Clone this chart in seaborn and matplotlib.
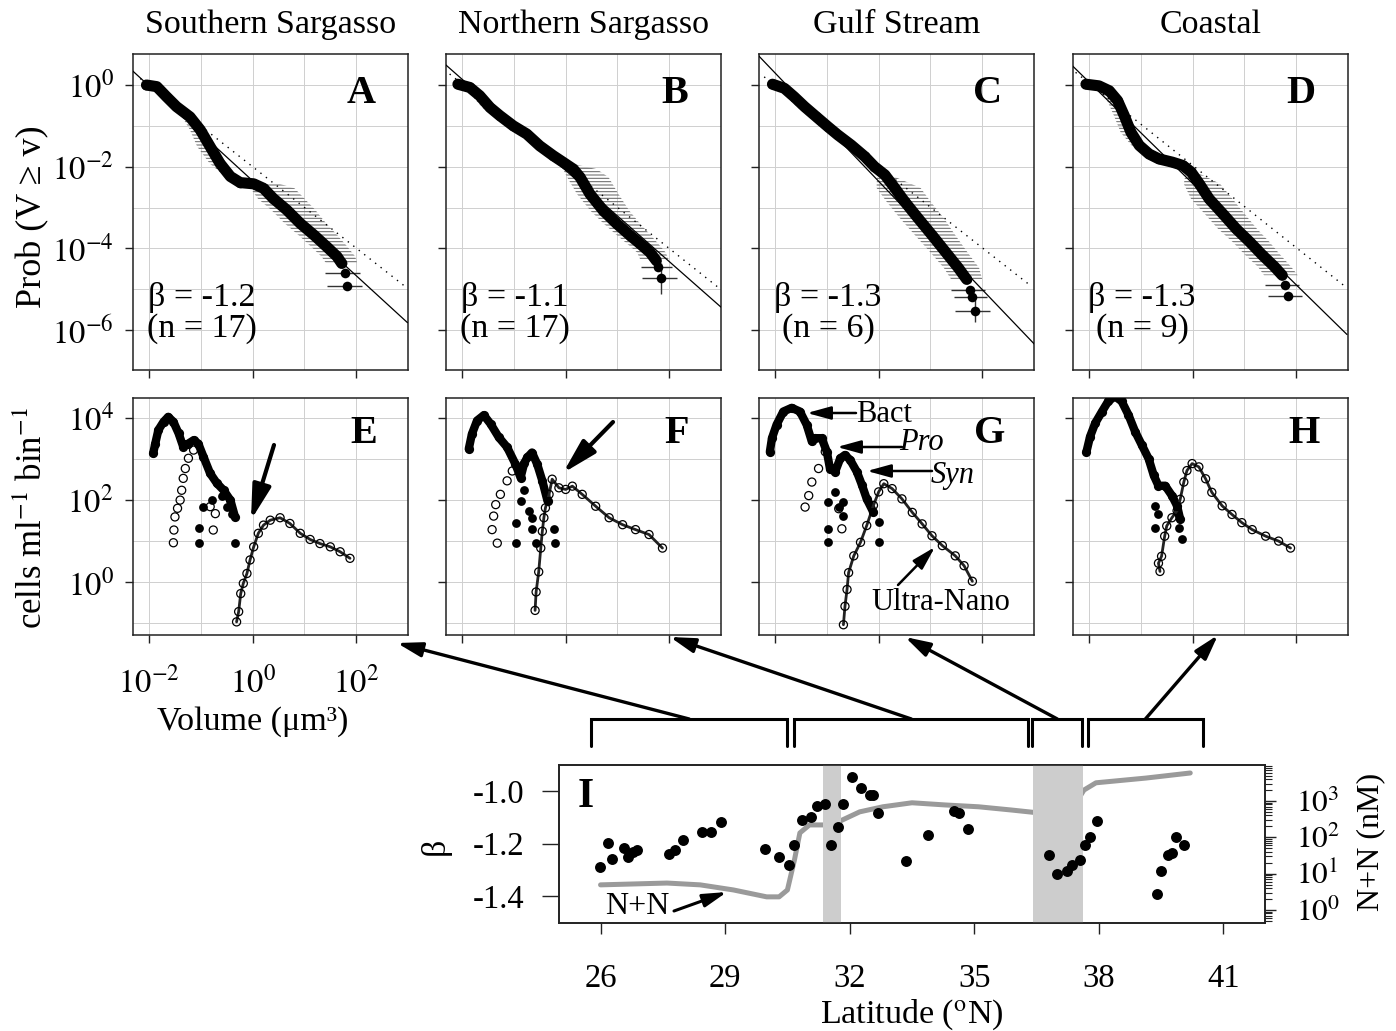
import numpy as np
import matplotlib
matplotlib.use("Agg")
import matplotlib.pyplot as plt
import matplotlib.transforms as mtransforms
from matplotlib.ticker import FixedLocator, NullFormatter
import seaborn as sns

sns.set_theme(style="white")
plt.rcParams["font.family"] = ["Liberation Serif", "DejaVu Serif"]
plt.rcParams["mathtext.fontset"] = "stix"
plt.rcParams["hatch.linewidth"] = 0.75
plt.rcParams["hatch.color"] = "#6a6a6a"
for k in ["text.color", "axes.labelcolor", "xtick.color", "ytick.color"]:
    plt.rcParams[k] = "black"

# ---------------- data: cumulative size distributions (log10 volume, log10 prob) ----------------
titles = ["Southern Sargasso", "Northern Sargasso", "Gulf Stream", "Coastal"]
letters_top = ["A", "B", "C", "D"]
betas_txt = ["\u03b2 = -1.2", "\u03b2 = -1.1", "\u03b2 = -1.3", "\u03b2 = -1.3"]
n_txt = ["(n = 17)", "(n = 17)", "(n = 6)", "(n = 9)"]

a_logv = [-2.05, -1.85, -1.66, -1.47, -1.21, -1.01, -0.82, -0.63, -0.43, -0.24, 0.02, 0.21, 0.40, 0.66, 0.92, 1.18, 1.43, 1.63, 1.72, 1.79, 1.83]
a_logp = [0.00, -0.04, -0.29, -0.53, -0.78, -1.10, -1.51, -1.92, -2.24, -2.39, -2.42, -2.53, -2.78, -3.06, -3.39, -3.67, -3.96, -4.20, -4.37, -4.60, -4.92]
a_err_lo = [0.03, 0.05, 0.10, 0.12, 0.15, 0.20, 0.25, 0.20, 0.10, 0.08, 0.20, 0.25, 0.30, 0.30, 0.30, 0.30, 0.30, 0.30, 0.30, 0.39, 0.40]
a_err_hi = [0.03, 0.05, 0.05, 0.05, 0.05, 0.05, 0.05, 0.05, 0.05, 0.05, 0.50, 0.60, 0.60, 0.55, 0.50, 0.45, 0.40, 0.35, 0.30, 0.29, 0.28]
a_tail_yerr = [0.0, 0.0]
a_fit_logv = [-2.335, 2.99]
a_fit_logp = [0.367, -5.82]
a_dot_logv = [-2.17, 2.95]
a_dot_logp = [0.16, -4.94]

b_logv = [-2.08, -1.85, -1.66, -1.46, -1.27, -1.01, -0.75, -0.50, -0.24, -0.05, 0.15, 0.28, 0.47, 0.73, 0.99, 1.25, 1.44, 1.63, 1.75, 1.79, 1.85]
b_logp = [0.02, -0.06, -0.26, -0.55, -0.75, -1.00, -1.20, -1.49, -1.73, -1.89, -2.06, -2.26, -2.67, -3.08, -3.40, -3.69, -3.89, -4.10, -4.30, -4.45, -4.73]
b_err_lo = [0.03, 0.10, 0.15, 0.15, 0.15, 0.10, 0.08, 0.05, 0.05, 0.05, 0.20, 0.25, 0.25, 0.25, 0.25, 0.25, 0.25, 0.25, 0.30, 0.33, 0.37]
b_err_hi = [0.03, 0.10, 0.10, 0.10, 0.08, 0.05, 0.05, 0.05, 0.05, 0.05, 0.45, 0.55, 0.55, 0.50, 0.45, 0.40, 0.35, 0.30, 0.25, 0.27, 0.30]
b_tail_yerr = [0.0, 0.38]
b_fit_logv = [-2.32, 3.0]
b_fit_logp = [0.50, -5.44]
b_dot_logv = [-2.24, 2.95]
b_dot_logp = [0.27, -4.96]

c_logv = [-2.05, -1.82, -1.63, -1.43, -1.21, -0.98, -0.79, -0.53, -0.27, -0.08, 0.12, 0.31, 0.50, 0.76, 1.02, 1.28, 1.54, 1.70, 1.76, 1.81, 1.86]
c_logp = [0.02, -0.08, -0.29, -0.53, -0.77, -1.02, -1.22, -1.47, -1.75, -2.00, -2.20, -2.52, -2.85, -3.26, -3.66, -4.07, -4.48, -4.76, -5.01, -5.20, -5.54]
c_err_lo = [0.03, 0.10, 0.15, 0.15, 0.15, 0.15, 0.15, 0.12, 0.10, 0.10, 0.15, 0.35, 0.35, 0.35, 0.33, 0.30, 0.28, 0.30, 0.36, 0.36, 0.38]
c_err_hi = [0.03, 0.05, 0.05, 0.05, 0.05, 0.05, 0.05, 0.05, 0.05, 0.05, 0.10, 0.50, 0.50, 0.50, 0.45, 0.42, 0.40, 0.30, 0.29, 0.29, 0.29]
c_tail_yerr = [0.0, 0.0, 0.27]
c_fit_logv = [-2.32, 3.01]
c_fit_logp = [0.72, -6.35]
c_dot_logv = [-2.21, 2.95]
c_dot_logp = [0.20, -4.93]

d_logv = [-2.06, -1.81, -1.61, -1.45, -1.32, -1.19, -1.03, -0.84, -0.65, -0.39, -0.19, -0.03, 0.13, 0.32, 0.58, 0.84, 1.10, 1.35, 1.58, 1.73, 1.79, 1.84]
d_logp = [0.02, -0.02, -0.14, -0.38, -0.75, -1.16, -1.48, -1.69, -1.81, -1.89, -1.97, -2.13, -2.42, -2.79, -3.15, -3.52, -3.84, -4.17, -4.45, -4.66, -4.89, -5.16]
d_err_lo = [0.03, 0.10, 0.15, 0.20, 0.20, 0.20, 0.15, 0.08, 0.05, 0.05, 0.05, 0.10, 0.30, 0.35, 0.35, 0.35, 0.33, 0.33, 0.32, 0.35, 0.40, 0.38]
d_err_hi = [0.03, 0.05, 0.05, 0.05, 0.05, 0.05, 0.05, 0.05, 0.05, 0.05, 0.05, 0.10, 0.40, 0.45, 0.42, 0.40, 0.38, 0.35, 0.32, 0.30, 0.27, 0.27]
d_tail_yerr = [0.0, 0.10]
d_fit_logv = [-2.32, 2.98]
d_fit_logp = [0.47, -6.11]
d_dot_logv = [-2.26, 2.95]
d_dot_logp = [0.31, -4.94]

# ---------------- data: size spectra (log10 volume, log10 cells ml-1 bin-1) ----------------
letters_mid = ["E", "F", "G", "H"]

e_fill_logv = [-1.92, -1.88, -1.82, -1.72, -1.63, -1.53, -1.43, -1.34, -1.24, -1.14, -1.05, -0.95, -0.82, -0.69, -0.56, -0.43, -0.34]
e_fill_logn = [3.14, 3.38, 3.71, 3.91, 4.03, 3.91, 3.63, 3.30, 3.38, 3.46, 3.38, 3.06, 2.65, 2.41, 2.24, 2.00, 1.59]
e_iso_logv = [-1.03, -1.03, -0.34, -0.95, -0.79, -0.60, -0.50, -0.40]
e_iso_logn = [1.31, 0.96, 0.96, 1.84, 2.00, 2.10, 1.84, 1.65]
e_pro_logv = [-1.53, -1.52, -1.50, -1.45, -1.40, -1.37, -1.34, -1.30, -1.24, -1.14, -0.82, -0.76, -0.72]
e_pro_logn = [0.96, 1.27, 1.59, 1.80, 2.00, 2.24, 2.53, 2.77, 3.02, 3.22, 1.84, 1.27, 1.67]
e_nano_logv = [-0.31, -0.27, -0.23, -0.18, -0.11, -0.05, 0.02, 0.11, 0.21, 0.34, 0.53, 0.72, 0.92, 1.11, 1.30, 1.50, 1.69, 1.88]
e_nano_logn = [-0.97, -0.72, -0.28, -0.03, 0.21, 0.54, 0.86, 1.19, 1.39, 1.51, 1.57, 1.43, 1.19, 1.04, 0.94, 0.86, 0.74, 0.58]

f_fill_logv = [-1.87, -1.81, -1.71, -1.58, -1.45, -1.29, -1.13, -0.97, -0.87, -0.80, -0.74, -0.65, -0.55, -0.45, -0.35]
f_fill_logn = [3.25, 3.61, 3.94, 4.07, 3.86, 3.53, 3.29, 2.88, 2.55, 2.90, 3.04, 3.16, 2.88, 2.47, 1.98]
f_iso_logv = [-0.95, -0.95, -0.65, -0.58, -0.23, -0.21, -0.87, -0.71, -0.65, -0.80]
f_iso_logn = [1.44, 0.95, 1.30, 0.95, 1.30, 0.95, 1.98, 1.73, 1.57, 2.25]
f_pro_logv = [-1.32, -1.42, -1.39, -1.35, -1.26, -1.13, -1.03]
f_pro_logn = [0.95, 1.28, 1.61, 1.89, 2.14, 2.47, 2.71]
f_nano_logv = [-0.59, -0.57, -0.52, -0.48, -0.45, -0.42, -0.39, -0.32, -0.26, -0.13, 0.00, 0.13, 0.32, 0.58, 0.84, 1.10, 1.35, 1.61, 1.87]
f_nano_logn = [-0.69, -0.24, 0.25, 0.83, 1.24, 1.57, 1.81, 2.14, 2.51, 2.30, 2.26, 2.34, 2.14, 1.85, 1.57, 1.40, 1.28, 1.16, 0.83]

g_fill_logv = [-2.10, -2.06, -1.97, -1.84, -1.68, -1.52, -1.39, -1.29, -1.23, -1.10, -1.00, -0.94, -0.84, -0.74, -0.65, -0.55, -0.42, -0.32, -0.23, -0.10]
g_fill_logn = [3.18, 3.51, 3.84, 4.16, 4.25, 4.16, 3.84, 3.43, 3.51, 3.51, 3.18, 2.77, 2.69, 3.02, 3.10, 2.98, 2.69, 2.36, 2.03, 1.70]
g_iso_logv = [-0.97, -0.97, -0.97, -0.68, -0.68, 0.00, 0.00, -0.77, -0.85]
g_iso_logn = [1.95, 1.30, 0.97, 1.95, 1.62, 1.46, 0.97, 1.83, 2.20]
g_pro_logv = [-1.42, -1.35, -1.29, -1.16, -1.03, -0.77, -0.71]
g_pro_logn = [1.83, 2.11, 2.44, 2.77, 3.18, 1.79, 1.30]
g_nano_logv = [-0.68, -0.65, -0.61, -0.58, -0.48, -0.35, -0.23, -0.10, 0.00, 0.10, 0.26, 0.45, 0.65, 0.84, 1.03, 1.23, 1.48, 1.65, 1.81]
g_nano_logn = [-1.04, -0.59, -0.18, 0.23, 0.64, 0.97, 1.38, 1.87, 2.20, 2.40, 2.28, 2.03, 1.70, 1.42, 1.13, 0.89, 0.64, 0.40, 0.02]

h_fill_logv = [-2.05, -1.98, -1.88, -1.75, -1.63, -1.50, -1.37, -1.24, -1.11, -0.98, -0.85, -0.75, -0.66, -0.53, -0.40, -0.30, -0.24]
h_fill_logn = [3.18, 3.55, 3.88, 4.16, 4.41, 4.53, 4.41, 4.08, 3.67, 3.34, 3.01, 2.60, 2.35, 2.35, 2.11, 1.86, 1.53]
h_iso_logv = [-0.72, -0.67, -0.73, -0.27, -0.21]
h_iso_logn = [1.86, 1.65, 1.33, 1.33, 1.04]
h_pro_logv = []
h_pro_logn = []
h_nano_logv = [-0.63, -0.66, -0.60, -0.54, -0.50, -0.40, -0.30, -0.24, -0.17, -0.11, -0.01, 0.12, 0.25, 0.37, 0.57, 0.76, 0.95, 1.15, 1.41, 1.66, 1.89]
h_nano_logn = [0.26, 0.46, 0.63, 1.12, 1.37, 1.57, 1.74, 2.02, 2.44, 2.72, 2.89, 2.81, 2.52, 2.19, 1.86, 1.65, 1.45, 1.28, 1.12, 1.00, 0.83]

# ---------------- data: latitudinal transect ----------------
beta_lat = [25.99, 26.17, 26.27, 26.56, 26.67, 26.79, 26.88, 27.65, 27.79, 27.99, 28.45, 28.67, 28.89,
            29.95, 30.29, 30.53, 30.66, 30.86, 31.06, 31.22, 31.41, 31.54, 31.71, 31.83,
            32.05, 32.28, 32.48, 32.56, 32.68, 33.36, 33.89, 34.52, 34.64, 34.86,
            36.80, 36.98, 37.23, 37.36, 37.55, 37.67, 37.79, 37.95,
            39.39, 39.49, 39.67, 39.77, 39.85, 40.05]
beta_val = [-1.288, -1.199, -1.257, -1.218, -1.250, -1.231, -1.225, -1.240, -1.225, -1.187, -1.155, -1.155, -1.117,
            -1.220, -1.251, -1.283, -1.206, -1.108, -1.098, -1.057, -1.047, -1.206, -1.136, -1.047,
            -0.946, -0.986, -1.013, -1.015, -1.085, -1.267, -1.168, -1.075, -1.085, -1.146,
            -1.244, -1.316, -1.303, -1.282, -1.263, -1.206, -1.174, -1.114,
            -1.394, -1.303, -1.244, -1.235, -1.174, -1.206]
nn_lat = [26.0, 27.6, 28.4, 29.2, 30.0, 30.3, 30.5, 30.67, 30.8, 31.03, 31.6, 31.83, 32.24, 32.8, 33.5,
          34.3, 35.1, 35.9, 36.56, 37.1, 37.33, 37.45, 37.64, 37.93, 39.13, 40.2]
nn_log = [0.69, 0.74, 0.69, 0.55, 0.36, 0.36, 0.55, 1.38, 2.12, 2.34, 2.34, 2.48, 2.70, 2.84, 2.95,
          2.89, 2.84, 2.75, 2.67, 2.62, 2.67, 2.95, 3.30, 3.50, 3.63, 3.77]
front_lo = [31.35, 36.42]
front_hi = [31.78, 37.62]
region_lo = [25.77, 30.67, 36.40, 37.74]
region_hi = [30.50, 36.30, 37.60, 40.50]

# ---------------- figure ----------------
W, H = 1396, 1031
fig = plt.figure(figsize=(W / 100, H / 100), dpi=100)


def add_ax(x0, y0, x1, y1, **kw):
    return fig.add_axes([x0 / W, 1 - y1 / H, (x1 - x0) / W, (y1 - y0) / H], **kw)


TL = 23.5  # tick label size
TS = 24.5  # text size


def frame(ax):
    for s in ax.spines.values():
        s.set_visible(True)
        s.set_color("#222222")
        s.set_linewidth(1.1)
    ax.set_axisbelow(True)
    ax.grid(True, which="both", color="#cfcfcf", linewidth=0.7)
    ax.tick_params(which="major", direction="out", length=6, width=1.0, color="#222222",
                   bottom=True, left=True, top=False, right=False, labelsize=TL, pad=8)
    ax.tick_params(which="minor", length=0)
    ax.set_xlabel("")
    ax.set_ylabel("")


lefts = [133, 446, 759, 1073]
PW = 275
decades_x = [10.0 ** k for k in range(-3, 4)]

top_data = [
    (a_logv, a_logp, a_err_lo, a_err_hi, a_tail_yerr, a_fit_logv, a_fit_logp, a_dot_logv, a_dot_logp),
    (b_logv, b_logp, b_err_lo, b_err_hi, b_tail_yerr, b_fit_logv, b_fit_logp, b_dot_logv, b_dot_logp),
    (c_logv, c_logp, c_err_lo, c_err_hi, c_tail_yerr, c_fit_logv, c_fit_logp, c_dot_logv, c_dot_logp),
    (d_logv, d_logp, d_err_lo, d_err_hi, d_tail_yerr, d_fit_logv, d_fit_logp, d_dot_logv, d_dot_logp),
]

for i, (lv, lp, elo, ehi, tyerr, fv, fp, dv, dp) in enumerate(top_data):
    left = lefts[i]
    ax = add_ax(left, 54, left + PW, 370)
    ax.set_xscale("log")
    ax.set_yscale("log")
    lv = np.array(lv); lp = np.array(lp)
    v = 10 ** lv; p = 10 ** lp
    vlo = 10 ** (lv - np.array(elo)); vhi = 10 ** (lv + np.array(ehi))
    nt = len(tyerr)
    nb = len(lv) - nt
    ax.fill_betweenx(p[:nb], vlo[:nb], vhi[:nb], facecolor="none", edgecolor="#6a6a6a",
                     hatch="-----", linewidth=0, zorder=2)
    tl = lp[nb:]
    ty = np.array(tyerr)
    ax.errorbar(v[nb:], p[nb:], xerr=[v[nb:] - vlo[nb:], vhi[nb:] - v[nb:]],
                yerr=[p[nb:] - 10 ** (tl - ty), 10 ** (tl + ty) - p[nb:]],
                fmt="none", ecolor="#333333", elinewidth=1.0, capsize=0, zorder=3)
    sns.lineplot(x=10 ** np.array(fv), y=10 ** np.array(fp), color="black", linewidth=0.9,
                 estimator=None, sort=False, ax=ax, zorder=4)
    sns.lineplot(x=10 ** np.array(dv), y=10 ** np.array(dp), color="black", linewidth=1.0,
                 linestyle=(0, (1, 4)), estimator=None, sort=False, ax=ax, zorder=4)
    sns.lineplot(x=v[:nb], y=p[:nb], color="black", linewidth=8, solid_capstyle="round",
                 estimator=None, sort=False, ax=ax, zorder=5)
    sns.scatterplot(x=v, y=p, color="black", s=48, linewidth=0, ax=ax, zorder=6)
    ax.set_xlim(10 ** -2.31, 10 ** 3.0)
    ax.set_ylim(10 ** -6.98, 10 ** 0.76)
    ax.xaxis.set_major_locator(FixedLocator([1e-2, 1e0, 1e2]))
    ax.xaxis.set_minor_locator(FixedLocator(decades_x))
    ax.yaxis.set_major_locator(FixedLocator([1e0, 1e-2, 1e-4, 1e-6]))
    ax.yaxis.set_minor_locator(FixedLocator([10.0 ** k for k in range(-7, 1)]))
    ax.xaxis.set_major_formatter(NullFormatter()); ax.xaxis.set_minor_formatter(NullFormatter())
    ax.yaxis.set_minor_formatter(NullFormatter())
    frame(ax)
    if i == 0:
        ax.set_yticks([1e0, 1e-2, 1e-4, 1e-6],
                      labels=[r"$10^{0}$", r"$10^{-2}$", r"$10^{-4}$", r"$10^{-6}$"])
        ax.tick_params(axis="y", labelsize=TL, pad=8)
    else:
        ax.yaxis.set_major_formatter(NullFormatter())
    ax.text(0.83, 0.875, letters_top[i], transform=ax.transAxes, ha="center", va="center",
            fontsize=29, fontweight="bold", zorder=8)
    cx = (left + 69) / W
    fig.text(cx, 1 - 297 / H, betas_txt[i], ha="center", va="center", fontsize=TS)
    fig.text(cx, 1 - 329 / H, n_txt[i], ha="center", va="center", fontsize=TS)
    fig.text((left + PW / 2) / W, 1 - 25 / H, titles[i], ha="center", va="center", fontsize=TS)

mid_data = [
    (e_fill_logv, e_fill_logn, e_iso_logv, e_iso_logn, e_pro_logv, e_pro_logn, e_nano_logv, e_nano_logn),
    (f_fill_logv, f_fill_logn, f_iso_logv, f_iso_logn, f_pro_logv, f_pro_logn, f_nano_logv, f_nano_logn),
    (g_fill_logv, g_fill_logn, g_iso_logv, g_iso_logn, g_pro_logv, g_pro_logn, g_nano_logv, g_nano_logn),
    (h_fill_logv, h_fill_logn, h_iso_logv, h_iso_logn, h_pro_logv, h_pro_logn, h_nano_logv, h_nano_logn),
]

for i, (flv, fln, ilv, iln, plv, pln, nlv, nln) in enumerate(mid_data):
    left = lefts[i]
    ax = add_ax(left, 398, left + PW, 635)
    ax.set_xscale("log")
    ax.set_yscale("log")
    fx = 10 ** np.array(flv); fy = 10 ** np.array(fln)
    sns.lineplot(x=fx, y=fy, color="black", linewidth=6, solid_capstyle="round",
                 estimator=None, sort=False, ax=ax, zorder=5)
    sns.scatterplot(x=fx, y=fy, color="black", s=44, linewidth=0, ax=ax, zorder=6)
    sns.scatterplot(x=10 ** np.array(ilv), y=10 ** np.array(iln), color="black", s=40,
                    linewidth=0, ax=ax, zorder=6)
    if len(plv):
        sns.scatterplot(x=10 ** np.array(plv), y=10 ** np.array(pln), color="black",
                        facecolor="none", edgecolor="black", s=34, linewidth=0.9, ax=ax, zorder=6)
    nx = 10 ** np.array(nlv); ny = 10 ** np.array(nln)
    sns.lineplot(x=nx, y=ny, color="#222222", linewidth=2.0, estimator=None, sort=False, ax=ax, zorder=5)
    sns.scatterplot(x=nx, y=ny, color="black", facecolor="none", edgecolor="black", s=34,
                    linewidth=0.9, ax=ax, zorder=6)
    ax.set_xlim(10 ** -2.31, 10 ** 3.0)
    ax.set_ylim(10 ** -1.29, 10 ** 4.49)
    ax.xaxis.set_major_locator(FixedLocator([1e-2, 1e0, 1e2]))
    ax.xaxis.set_minor_locator(FixedLocator(decades_x))
    ax.yaxis.set_major_locator(FixedLocator([1e0, 1e2, 1e4]))
    ax.yaxis.set_minor_locator(FixedLocator([10.0 ** k for k in range(-1, 5)]))
    ax.xaxis.set_minor_formatter(NullFormatter()); ax.yaxis.set_minor_formatter(NullFormatter())
    frame(ax)
    if i == 0:
        ax.set_yticks([1e0, 1e2, 1e4], labels=[r"$10^{0}$", r"$10^{2}$", r"$10^{4}$"])
        ax.set_xticks([1e-2, 1e0, 1e2], labels=[r"$10^{-2}$", r"$10^{0}$", r"$10^{2}$"])
        ax.tick_params(axis="y", labelsize=TL, pad=8)
        ax.tick_params(axis="x", labelsize=TL, pad=17)
    else:
        ax.xaxis.set_major_formatter(NullFormatter())
        ax.yaxis.set_major_formatter(NullFormatter())
    ax.text(0.84, 0.85, letters_mid[i], transform=ax.transAxes, ha="center", va="center",
            fontsize=29, fontweight="bold", zorder=8)

# axis labels of the upper panels
fig.text(33 / W, 1 - 217 / H, "Prob (V \u2265 v)", rotation=90, ha="center", va="center", fontsize=26)
fig.text(33 / W, 1 - 518 / H, r"cells ml$^{-1}$ bin$^{-1}$", rotation=90, ha="center", va="center", fontsize=25)
fig.text(253 / W, 1 - 722 / H, "Volume (\u03bcm\u00b3)", ha="center", va="center", fontsize=TS)

# ---------------- panel I ----------------
axI = add_ax(559, 765, 1265, 923)
axN = axI.twinx()
axN.set_yscale("log")
for lo, hi in zip(front_lo, front_hi):
    axI.axvspan(lo, hi, color="#cdcdcd", linewidth=0, zorder=1)
sns.lineplot(x=nn_lat, y=10 ** np.array(nn_log), color="#9a9a9a", linewidth=3.6,
             estimator=None, sort=False, ax=axN)
sns.scatterplot(x=beta_lat, y=beta_val, color="black", s=62, linewidth=0, ax=axI, zorder=5)
axI.set_zorder(axN.get_zorder() + 1)
axI.patch.set_visible(False)
axI.set_xlim(25.0, 42.0)
axI.set_ylim(-1.503, -0.90)
axN.set_ylim(10 ** -0.36, 10 ** 3.99)
for s in list(axI.spines.values()) + list(axN.spines.values()):
    s.set_visible(True); s.set_color("#222222"); s.set_linewidth(1.2)
axI.grid(False); axN.grid(False)
axI.set_xticks([26, 29, 32, 35, 38, 41], labels=["26", "29", "32", "35", "38", "41"])
axI.set_yticks([-1.0, -1.2, -1.4], labels=["-1.0", "-1.2", "-1.4"])
axI.tick_params(axis="x", direction="out", length=8, width=1.0, color="#222222", labelsize=TL, pad=21,
                bottom=True)
axI.tick_params(axis="y", direction="out", length=12, width=1.0, color="#222222", labelsize=TL, pad=13,
                left=True)
axN.yaxis.set_major_locator(FixedLocator([1, 10, 100, 1000]))
axN.yaxis.set_minor_locator(FixedLocator([k * 10.0 ** d for d in range(-1, 4) for k in range(2, 10)]))
axN.set_yticks([1, 10, 100, 1000], labels=[r"$10^{0}$", r"$10^{1}$", r"$10^{2}$", r"$10^{3}$"])
axN.yaxis.set_minor_formatter(NullFormatter())
axN.tick_params(axis="y", which="major", direction="out", length=8, width=1.0, color="#222222",
                labelsize=22.5, pad=14, right=True)
axN.tick_params(axis="y", which="minor", direction="out", length=5, width=0.8, color="#222222", right=True)
axI.set_xlabel(""); axI.set_ylabel(""); axN.set_ylabel("")
axI.text(0.027, 0.80, "I", transform=axI.transAxes, ha="left", va="center", fontsize=30, fontweight="bold")
fig.text(435 / W, 1 - 846 / H, "\u03b2", rotation=90, ha="center", va="center", fontsize=TS)
fig.text(912 / W, 1 - 1015 / H, r"Latitude ($^{\rm o}$N)", ha="center", va="center", fontsize=TS)
fig.text(1371 / W, 1 - 842 / H, "N+N (nM)", rotation=90, ha="center", va="center", fontsize=23)

# ---------------- overlay: annotations in pixel coordinates ----------------
ov = fig.add_axes([0, 0, 1, 1], zorder=20)
ov.set_xlim(0, W); ov.set_ylim(H, 0); ov.axis("off")
blend = mtransforms.blended_transform_factory(axI.transData, ov.transData)

# brackets over transect regions
for lo, hi in zip(region_lo, region_hi):
    ov.plot([lo, lo, hi, hi], [746, 719, 719, 746], color="black", linewidth=2.2, transform=blend,
            clip_on=False, solid_joinstyle="miter")

big = dict(arrowstyle="-|>,head_length=0.75,head_width=0.22", color="black",
           linewidth=2.4, shrinkA=0, shrinkB=0, mutation_scale=20)
targets = [(397, 643), (670, 637), (905, 637), (1218, 635)]
for lo, hi, tgt in zip(region_lo, region_hi, targets):
    ov.annotate("", xy=tgt, xycoords=ov.transData, xytext=((lo + hi) / 2, 719), textcoords=blend,
                arrowprops=big)

# arrows inside E and F
fat = dict(arrowstyle="-|>,head_length=1.05,head_width=0.28", color="black",
           linewidth=3.0, shrinkA=0, shrinkB=0, mutation_scale=20)
ov.annotate("", xy=(251, 520), xytext=(274, 445), arrowprops=fat)
ov.annotate("", xy=(563, 473), xytext=(613, 422), arrowprops=fat)

# labels in G
thin = dict(arrowstyle="-|>,head_length=0.8,head_width=0.22", color="black", linewidth=1.8,
            shrinkA=0, shrinkB=0, mutation_scale=18)
ov.text(884, 414, "Bact", ha="center", va="center", fontsize=22)
ov.annotate("", xy=(807, 413), xytext=(856, 413), arrowprops=thin)
ov.text(921, 442, "Pro", ha="center", va="center", fontsize=22, style="italic")
ov.annotate("", xy=(837, 447), xytext=(902, 447), arrowprops=thin)
ov.text(953, 476, "Syn", ha="center", va="center", fontsize=22, style="italic")
ov.annotate("", xy=(867, 471), xytext=(932, 471), arrowprops=thin)
ov.text(941, 602, "Ultra-Nano", ha="center", va="center", fontsize=22)
ov.annotate("", xy=(935, 547), xytext=(898, 585), arrowprops=thin)

# N+N label in I
ov.text(637, 906, "N+N", ha="center", va="center", fontsize=23)
ov.annotate("", xy=(727, 892), xytext=(674, 911), arrowprops=dict(thin, linewidth=2.2))

fig.savefig("out.png", dpi=100)
